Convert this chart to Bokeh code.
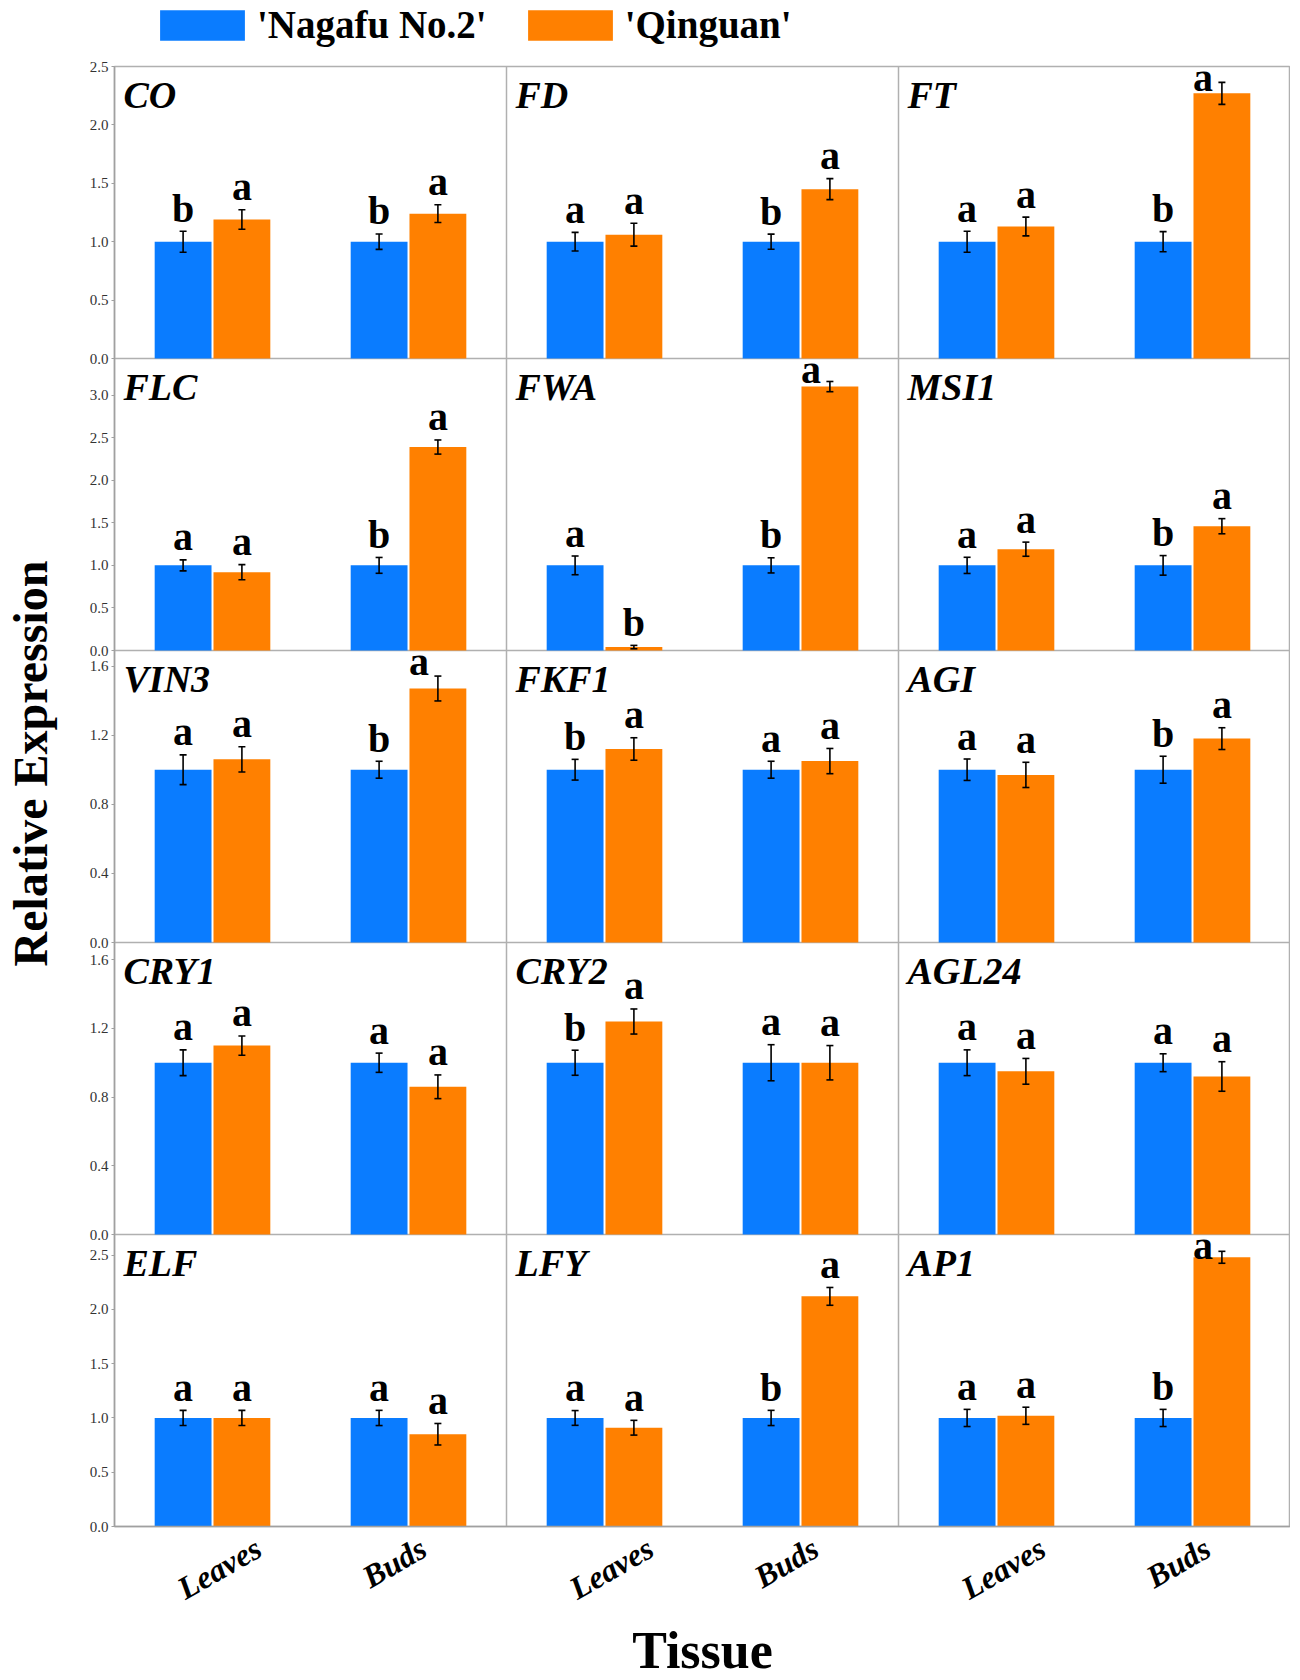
import math
from bokeh.plotting import figure
from bokeh.models import (ColumnDataSource, Whisker, TeeHead, FixedTicker,
                          Label, Legend, LegendItem, Range1d)
from bokeh.layouts import row, column
from bokeh.embed import file_html
from bokeh.resources import INLINE
from bokeh.core.properties import value

# ---------------- data ----------------
genes = ["CO", "FD", "FT", "FLC", "FWA", "MSI1", "VIN3", "FKF1", "AGI",
         "CRY1", "CRY2", "AGL24", "ELF", "LFY", "AP1"]
tissues = ["Leaves", "Buds"]
cultivars = ["'Nagafu No.2'", "'Qinguan'"]

nagafu_leaves = [1.0, 1.0, 1.0, 1.0, 1.0, 1.0, 1.0, 1.0, 1.0, 1.0, 1.0, 1.0, 1.0, 1.0, 1.0]
qinguan_leaves = [1.19, 1.06, 1.13, 0.92, 0.04, 1.19, 1.06, 1.12, 0.97, 1.10, 1.24, 0.95, 1.00, 0.91, 1.02]
nagafu_buds = [1.0, 1.0, 1.0, 1.0, 1.0, 1.0, 1.0, 1.0, 1.0, 1.0, 1.0, 1.0, 1.0, 1.0, 1.0]
qinguan_buds = [1.24, 1.45, 2.27, 2.39, 3.10, 1.46, 1.47, 1.05, 1.18, 0.86, 1.00, 0.92, 0.85, 2.12, 2.48]

nagafu_leaves_err = [0.09, 0.08, 0.09, 0.065, 0.11, 0.095, 0.086, 0.06, 0.062, 0.075, 0.073, 0.075, 0.07, 0.068, 0.079]
qinguan_leaves_err = [0.084, 0.098, 0.08, 0.089, 0.02, 0.083, 0.073, 0.065, 0.073, 0.056, 0.073, 0.075, 0.07, 0.068, 0.079]
nagafu_buds_err = [0.066, 0.065, 0.086, 0.093, 0.089, 0.115, 0.049, 0.049, 0.078, 0.056, 0.105, 0.052, 0.07, 0.07, 0.079]
qinguan_buds_err = [0.076, 0.09, 0.094, 0.083, 0.06, 0.089, 0.072, 0.073, 0.063, 0.069, 0.10, 0.086, 0.099, 0.082, 0.055]

nagafu_leaves_sig = ["b", "a", "a", "a", "a", "a", "a", "b", "a", "a", "b", "a", "a", "a", "a"]
qinguan_leaves_sig = ["a", "a", "a", "a", "b", "a", "a", "a", "a", "a", "a", "a", "a", "a", "a"]
nagafu_buds_sig = ["b", "b", "b", "b", "b", "b", "b", "a", "b", "a", "a", "a", "a", "b", "b"]
qinguan_buds_sig = ["a", "a", "a", "a", "a", "a", "a", "a", "a", "a", "a", "a", "a", "a", "a"]

row_ymax = [2.5, 3.43, 1.69, 1.70, 2.69]
row_ticks = [[0.0, 0.5, 1.0, 1.5, 2.0, 2.5],
             [0.0, 0.5, 1.0, 1.5, 2.0, 2.5, 3.0],
             [0.0, 0.4, 0.8, 1.2, 1.6],
             [0.0, 0.4, 0.8, 1.2, 1.6],
             [0.0, 0.5, 1.0, 1.5, 2.0, 2.5]]

# ---------------- style ----------------
BLUE = "#0a7cff"
ORANGE = "#ff8000"
SERIF = "Liberation Serif"
GRAY = "#b0b0b0"

NROW, NCOL = 5, 3
PANEL_W, PANEL_H = 392, 292
LAB_W = 66          # width of the y-title strip
LEFT_B = 48         # left border of the panel figure (tick labels)
TOP_B = 10
LEG_H = 56
BOTTOM_B = 152
MAIN_W = LEFT_B + NCOL * PANEL_W
BAR_W = 0.29
OFFS = [-0.15, 0.15]
COLORS = [BLUE, ORANGE]
TISSUE_LABEL_SHIFT_PX = [46, 15]   # rotated tissue labels: shift to centre them

series_vals = [(nagafu_leaves, nagafu_buds), (qinguan_leaves, qinguan_buds)]
series_err = [(nagafu_leaves_err, nagafu_buds_err), (qinguan_leaves_err, qinguan_buds_err)]
series_sig = [(nagafu_leaves_sig, nagafu_buds_sig), (qinguan_leaves_sig, qinguan_buds_sig)]

# ---------------- main figure: 5 x 3 panels, each with its own ranges ----------------
p = figure(frame_width=NCOL * PANEL_W, frame_height=NROW * PANEL_H,
           x_range=Range1d(0, 2 * NCOL), y_range=Range1d(0, NROW),
           output_backend="svg", toolbar_location=None, title=None,
           min_border_left=LEFT_B, min_border_right=0, min_border_top=TOP_B,
           min_border_bottom=BOTTOM_B)
p.background_fill_color = "white"
p.border_fill_color = "white"
p.outline_line_color = GRAY
p.outline_line_width = 1.5

p.extra_x_ranges = {f"c{c}": Range1d(-2 * c, 2 * NCOL - 2 * c) for c in range(NCOL)}
p.extra_y_ranges = {f"r{r}": Range1d(-(NROW - 1 - r) * row_ymax[r], (r + 1) * row_ymax[r])
                    for r in range(NROW)}

# panel dividers
p.xgrid.ticker = FixedTicker(ticks=[2 * c for c in range(1, NCOL)])
p.ygrid.ticker = FixedTicker(ticks=[r for r in range(1, NROW)])
p.grid.grid_line_color = GRAY
p.grid.grid_line_width = 1.5

# y axis: each row's ticks through that row's range
ytick_pos, ytick_lab = [], {}
for r in range(NROW):
    for t in row_ticks[r]:
        pos = (NROW - 1 - r) + t / row_ymax[r]
        ytick_pos.append(pos)
        ytick_lab[pos] = f"{t:.1f}"
ya = p.yaxis[0]
ya.ticker = FixedTicker(ticks=ytick_pos)
ya.major_label_overrides = ytick_lab
ya.major_label_text_font = SERIF
ya.major_label_text_font_size = "15px"
ya.major_label_text_color = "#333333"
ya.axis_line_color = "#a0a0a0"
ya.axis_line_width = 1.5
ya.major_tick_line_color = "#a0a0a0"
ya.major_tick_out = 3
ya.major_tick_in = 0
ya.minor_tick_line_color = None
ya.major_label_standoff = 3

# x axis: tissue labels under each column
xtick_pos, xtick_lab = [], {}
for c in range(NCOL):
    for k, t in enumerate(tissues):
        pos = 2 * c + k + 0.5 + TISSUE_LABEL_SHIFT_PX[k] / PANEL_W * 2
        xtick_pos.append(pos)
        xtick_lab[pos] = t
xa = p.xaxis[0]
xa.ticker = FixedTicker(ticks=xtick_pos)
xa.major_label_overrides = xtick_lab
xa.major_label_orientation = math.pi / 6
xa.major_label_text_font = SERIF
xa.major_label_text_font_style = "bold italic"
xa.major_label_text_font_size = "32px"
xa.major_label_text_color = "black"
xa.major_label_standoff = 13
xa.axis_line_color = "#a0a0a0"
xa.axis_line_width = 1.5
xa.major_tick_line_color = None
xa.minor_tick_line_color = None
xa.axis_label = "Tissue"
xa.axis_label_text_font = SERIF
xa.axis_label_text_font_style = "bold"
xa.axis_label_text_font_size = "52px"
xa.axis_label_text_color = "black"
xa.axis_label_standoff = -3

for i, g in enumerate(genes):
    r, c = divmod(i, NCOL)
    ymax = row_ymax[r]
    ppu = PANEL_H / ymax
    xr, yr = f"c{c}", f"r{r}"
    for s in range(2):
        xs, tops, ups, lows, lx, ly, lxo, lyo, lt = [], [], [], [], [], [], [], [], []
        for k in range(2):
            x = k + 0.5 + OFFS[s]
            v = series_vals[s][k][i]
            e = series_err[s][k][i]
            xs.append(x)
            tops.append(v)
            ups.append(v + e)
            lows.append(v - e)
            lt.append(series_sig[s][k][i])
            headroom = (ymax - (v + e)) * ppu
            lx.append(x)
            if headroom < 40:
                ly.append(ymax)
                lxo.append(-19)
                lyo.append(11)
            else:
                ly.append(v + e)
                lxo.append(0)
                lyo.append(-23)
        src = ColumnDataSource(dict(x=xs, top=tops, upper=ups, lower=lows))
        p.vbar(x="x", top="top", bottom=0, width=BAR_W, source=src,
               fill_color=COLORS[s], line_color=None,
               x_range_name=xr, y_range_name=yr)
        wh = Whisker(base="x", upper="upper", lower="lower", source=src,
                     line_color="black", line_width=1.6, level="overlay",
                     x_range_name=xr, y_range_name=yr,
                     upper_head=TeeHead(size=7, line_width=1.6, line_color="black"),
                     lower_head=TeeHead(size=7, line_width=1.6, line_color="black"))
        p.add_layout(wh)
        lsrc = ColumnDataSource(dict(x=lx, y=ly, text=lt, xo=lxo, yo=lyo))
        p.text(x="x", y="y", text="text", x_offset="xo", y_offset="yo", source=lsrc,
               text_align="center", text_baseline="alphabetic",
               text_font=value(SERIF), text_font_style="bold",
               text_font_size="40px", text_color="black",
               x_range_name=xr, y_range_name=yr)

    p.text(x=[0], y=[ymax], text=[g], x_offset=9, y_offset=28,
           text_align="left", text_baseline="alphabetic",
           text_font=value(SERIF), text_font_style="bold italic",
           text_font_size="38px", text_color="black",
           x_range_name=xr, y_range_name=yr)

# ---------------- legend figure ----------------
lf = figure(width=MAIN_W, height=LEG_H, x_range=Range1d(0, 1), y_range=Range1d(0, 1),
            output_backend="svg", toolbar_location=None, title=None,
            x_axis_location=None, y_axis_location=None,
            min_border_left=0, min_border_right=0, min_border_top=0, min_border_bottom=0)
lf.grid.grid_line_color = None
lf.outline_line_color = None
lf.background_fill_color = "white"
lf.border_fill_color = "white"
r1 = lf.vbar(x=[5], top=[5], bottom=[4], width=0.1, fill_color=BLUE, line_color=None)
r2 = lf.vbar(x=[5], top=[5], bottom=[4], width=0.1, fill_color=ORANGE, line_color=None)
legend = Legend(items=[LegendItem(label=cultivars[0], renderers=[r1]),
                       LegendItem(label=cultivars[1], renderers=[r2])],
                orientation="horizontal", location=(35, 9),
                glyph_width=106, glyph_height=38, label_standoff=2, spacing=30,
                padding=0, margin=0, border_line_color=None, background_fill_alpha=0,
                label_text_font=SERIF, label_text_font_style="bold",
                label_text_font_size="39px", label_text_color="black")
lf.add_layout(legend)

# ---------------- y-axis title figure ----------------
YF_H = 1510
yf = figure(width=LAB_W, height=YF_H, x_range=Range1d(0, LAB_W), y_range=Range1d(0, YF_H),
            output_backend="svg", toolbar_location=None, title=None,
            x_axis_location=None, y_axis_location=None,
            min_border_left=0, min_border_right=0, min_border_top=0, min_border_bottom=0)
yf.grid.grid_line_color = None
yf.outline_line_color = None
yf.background_fill_color = "white"
yf.border_fill_color = "white"
yf.add_layout(Label(x=30, y=YF_H - 763, text="Relative Expression", angle=math.pi / 2,
                    text_align="center", text_baseline="middle",
                    text_font=SERIF, text_font_style="bold", text_font_size="48px",
                    text_color="black"))

layout = row(yf, column(lf, p))

with open("out.html", "w") as f:
    f.write(file_html(layout, INLINE))
